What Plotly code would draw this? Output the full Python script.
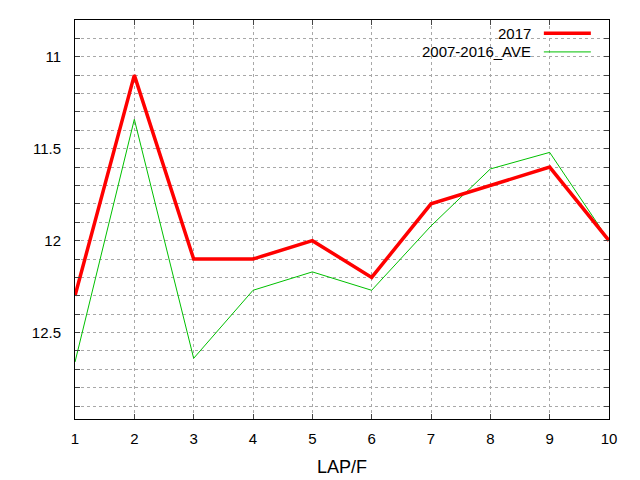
import plotly.graph_objects as go

laps = [1, 2, 3, 4, 5, 6, 7, 8, 9, 10]
y2017 = [12.3, 11.1, 12.1, 12.1, 12.0, 12.2, 11.8, 11.7, 11.6, 12.0]
ave = [12.66, 11.34, 12.64, 12.27, 12.17, 12.27, 11.92, 11.61, 11.52, 12.0]

names = ["2017", "2007-2016_AVE"]
colors = ["#ff0000", "#00c000"]
widths = [3.5, 1]

fig = go.Figure()
fig.add_trace(go.Scatter(x=laps, y=ave, mode="lines", name=names[1],
                         line=dict(color=colors[1], width=widths[1])))
fig.add_trace(go.Scatter(x=laps, y=y2017, mode="lines", name=names[0],
                         line=dict(color=colors[0], width=widths[0])))

# gnuplot style key: text right aligned, sample line to the right
for i, (nm, c, w) in enumerate(zip(names, colors, widths)):
    yp = 0.967 - i * 0.047
    fig.add_annotation(x=0.854, y=yp, xref="paper", yref="paper", text=nm,
                       showarrow=False, xanchor="right", yanchor="middle",
                       xshift=2, font=dict(size=15, color="#000000"))
    fig.add_shape(type="line", xref="paper", yref="paper",
                  x0=0.878, x1=0.966, y0=yp, y1=yp, line=dict(color=c, width=w))

grid = dict(showgrid=True, gridcolor="#a8a8a8", griddash="dot", gridwidth=1)

fig.update_layout(
    width=640, height=480,
    margin=dict(l=75, r=31, t=20, b=61),
    paper_bgcolor="white", plot_bgcolor="white",
    font=dict(family="Liberation Sans, Arial, sans-serif", size=15, color="#000000"),
    showlegend=False,
    xaxis=dict(range=[1, 10], dtick=1, tick0=1, ticks="inside", ticklen=5,
               showline=True, linecolor="black", linewidth=1, mirror="ticks",
               zeroline=False, ticklabelstandoff=6, automargin=False,
               title=dict(text="LAP/F", standoff=14), **grid),
    yaxis=dict(range=[12.97, 10.8], dtick=0.5, tick0=11, ticks="inside", ticklen=5,
               showline=True, linecolor="black", linewidth=1, mirror="ticks",
               zeroline=False, ticklabelstandoff=10, automargin=False,
               minor=dict(dtick=0.1, tick0=11, ticks="inside", ticklen=5,
                          showgrid=True, gridcolor="#a8a8a8", griddash="dot"),
               **grid),
)

fig.write_html("out.html", config={"displayModeBar": False},
               post_script="document.body.style.margin='0';")
